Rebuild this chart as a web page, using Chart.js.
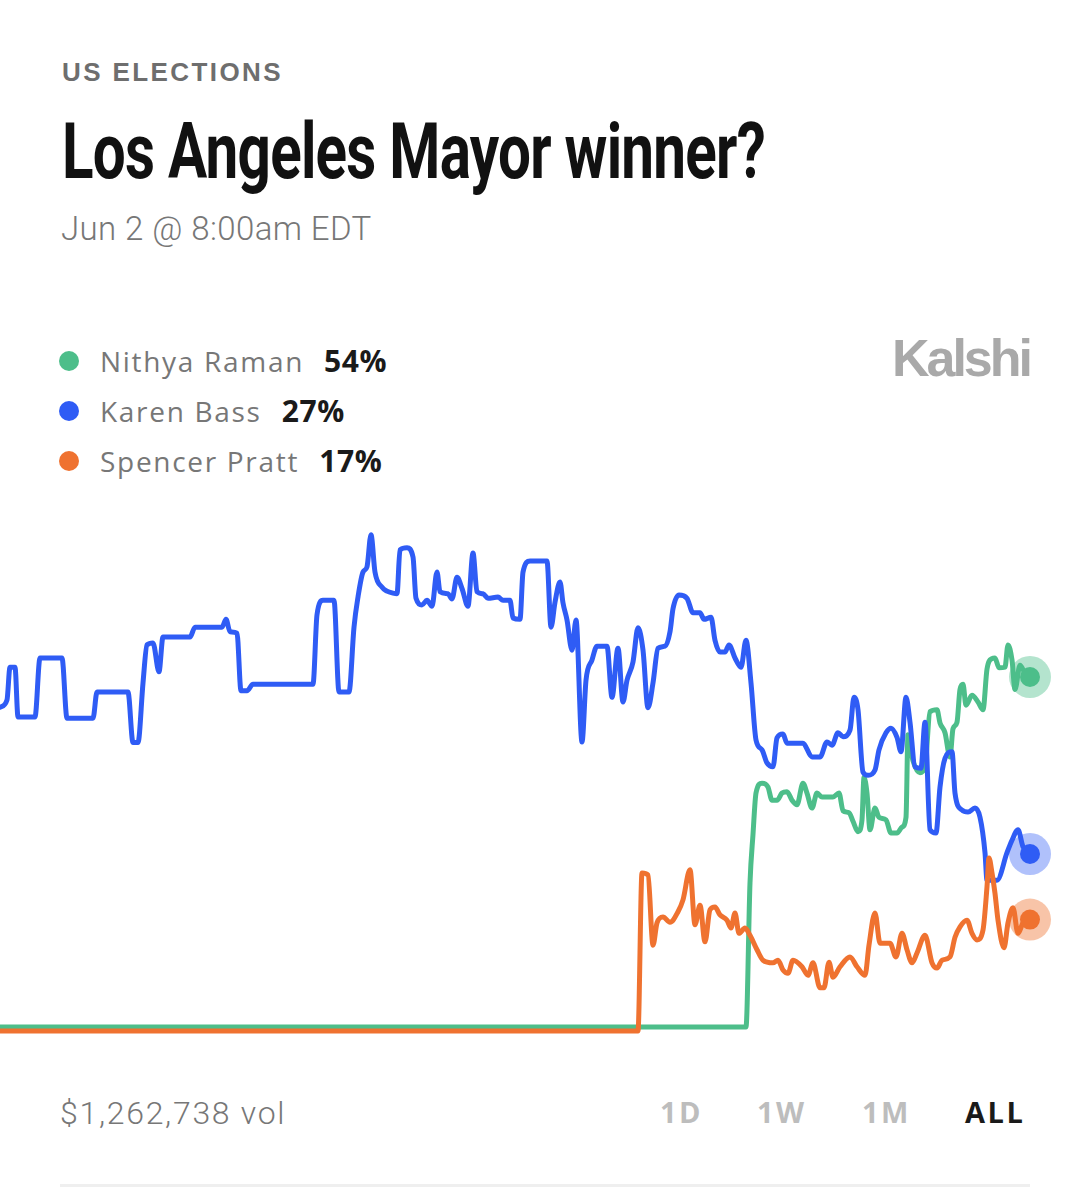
<!DOCTYPE html>
<html>
<head>
<meta charset="utf-8">
<script src="https://cdn.jsdelivr.net/npm/chart.js@4.4.1/dist/chart.umd.min.js"></script>
<style>
  html, body { margin: 0; padding: 0; background: #fff; }
  body { width: 1089px; height: 1200px; position: relative; overflow: hidden; }
  .t { position: absolute; white-space: nowrap; line-height: 1; }
  #kategori { left: 62px; top: 57px; font: bold 26px "Liberation Sans", Arial, sans-serif; letter-spacing: 2.4px; color: #6e6e6e; }
  #baslik { left: 62px; top: 107px; font: 700 77px Roboto, sans-serif; color: #111; letter-spacing: -1px; transform-origin: 0 0; }
  #tarih { left: 61px; top: 209px; font: 300 33px Roboto, sans-serif; letter-spacing: 0.4px; color: #777; }
  #logo { right: 59px; top: 328px; font: bold 52px "Liberation Sans", Arial, sans-serif; letter-spacing: -3px; color: #a9a9a9; }
  .satir { position: absolute; left: 59px; display: flex; align-items: baseline; white-space: nowrap; line-height: 1; }
  .nokta { width: 20px; height: 20px; border-radius: 50%; margin-right: 21px; align-self: center; }
  .isim { font: 400 28px "Open Sans", sans-serif; letter-spacing: 1.7px; color: #777; }
  .oran { font: 700 30px "Open Sans", sans-serif; letter-spacing: 0.6px; color: #1a1a1a; margin-left: 20px; }
  #grafikKutu { position: absolute; left: 0; top: 500px; width: 1089px; height: 560px; }
  #hacim { left: 60px; top: 1094px; font: 300 32px Roboto, sans-serif; letter-spacing: 1.7px; color: #777; }
  .aralik { position: absolute; top: 1097px; font: 700 29px "Open Sans", sans-serif; letter-spacing: 2.5px; color: #bdbdbd; line-height: 1; }
  #alt { position: absolute; left: 60px; top: 1184px; width: 970px; height: 3px; background: #efefef; }
</style>
</head>
<body>
<div class="t" id="kategori">US ELECTIONS</div>
<div class="t" id="baslik">Los Angeles Mayor winner?</div>
<div class="t" id="tarih">Jun 2 @ 8:00am EDT</div>
<div class="t" id="logo">Kalshi</div>
<div id="lejant"></div>
<div id="grafikKutu"><canvas id="grafik"></canvas></div>
<div class="t" id="hacim">$1,262,738 vol</div>
<div class="aralik" style="left:660px">1D</div>
<div class="aralik" style="left:757px">1W</div>
<div class="aralik" style="left:862px">1M</div>
<div class="aralik" style="left:965px;color:#1a1a1a">ALL</div>
<div id="alt"></div>

<script>
// --- VERİ (zaman ekseni 0..1030, değerler %) ---
const adaylar = ['Nithya Raman', 'Karen Bass', 'Spencer Pratt'];
const sonOranlar = [54, 27, 17];
const renkler = ['#4dbe8a', '#2f5cf5', '#ef7230'];
const haleRenkleri = ['rgba(77,190,138,0.42)', 'rgba(47,92,245,0.38)', 'rgba(239,114,48,0.42)'];

const ramanZaman = [0, 746, 750, 753, 756, 762, 768, 772, 777, 782, 787, 792, 797, 803, 807, 812, 817, 822, 833, 839, 843, 849, 853, 858, 862, 864, 867, 870, 875, 879, 886, 891, 897, 902, 906, 908, 913, 920, 925, 930, 937, 940, 945, 950, 953, 957, 960, 963, 966, 972, 978, 983, 987, 992, 995, 999, 1005, 1008, 1012, 1015, 1020, 1025, 1030];
const ramanOran = [0.6, 0.6, 22.6, 30, 36.3, 37.8, 37.2, 35.2, 35.2, 36.3, 36.5, 35.2, 34.5, 37.8, 36.3, 34.0, 36.3, 35.7, 35.7, 36.3, 33.6, 33.3, 32.0, 30.4, 32.2, 38.7, 36.3, 30.7, 34.0, 32.6, 32.2, 30.2, 30.2, 31.1, 32.6, 45.2, 41.2, 39.4, 40.3, 48.7, 49.0, 47.0, 45.5, 41.8, 46.1, 47.1, 52.1, 52.9, 49.7, 51.2, 50.2, 49.0, 55.2, 56.8, 56.9, 55.4, 55.5, 58.9, 56.6, 52.1, 55.8, 54.6, 54];

const bassZaman = [0, 7, 10, 15, 18, 35, 40, 62, 67, 93, 97, 128, 133, 138, 143, 147, 153, 159, 163, 190, 195, 222, 226, 230, 237, 241, 247, 253, 313, 317, 323, 334, 339, 349, 354, 358, 363, 367, 371, 375, 382, 387, 393, 397, 400, 407, 413, 416, 422, 427, 432, 437, 440, 448, 452, 457, 462, 468, 473, 477, 483, 488, 498, 503, 510, 513, 520, 523, 530, 547, 551, 555, 560, 563, 567, 572, 576, 582, 586, 592, 597, 607, 612, 618, 623, 627, 633, 638, 643, 648, 653, 658, 665, 670, 673, 679, 687, 693, 700, 704, 711, 715, 720, 725, 729, 735, 741, 746, 751, 756, 762, 767, 773, 777, 783, 787, 803, 812, 820, 827, 832, 838, 843, 850, 854, 858, 863, 868, 875, 879, 886, 891, 897, 901, 906, 910, 915, 921, 925, 930, 936, 940, 945, 952, 955, 962, 968, 975, 980, 985, 987, 997, 1007, 1012, 1018, 1023, 1030];
const bassOran = [49.4, 50.5, 55.5, 55.5, 47.9, 47.9, 56.9, 56.9, 47.7, 47.7, 51.7, 51.7, 44.0, 44.0, 53.1, 58.9, 59.2, 54.8, 60.1, 60.1, 61.6, 61.6, 62.8, 60.9, 60.7, 51.9, 51.9, 52.9, 52.9, 63.5, 65.7, 65.7, 51.7, 51.7, 61.6, 66.2, 70.0, 70.8, 75.7, 70.0, 67.7, 67.1, 66.8, 66.7, 73.4, 73.7, 72.3, 66.0, 65.0, 65.7, 64.8, 70.0, 67.0, 66.7, 65.9, 69.2, 67.5, 64.8, 72.9, 67.0, 66.7, 66.0, 66.2, 65.7, 65.7, 63.0, 62.8, 70.0, 71.7, 71.7, 61.6, 65.4, 68.5, 65.3, 62.7, 58.1, 62.7, 44.1, 53.5, 56.6, 58.7, 58.7, 50.9, 58.4, 50.2, 53.5, 56.3, 61.5, 58.1, 49.3, 53.1, 58.4, 58.7, 60.9, 64.4, 66.5, 66.0, 63.8, 63.8, 62.8, 63.1, 59.6, 57.8, 57.8, 58.9, 56.9, 55.5, 59.6, 53.1, 44.4, 42.9, 40.9, 40.3, 44.7, 45.3, 43.9, 43.9, 41.8, 41.8, 44.1, 43.6, 45.5, 44.9, 45.9, 50.9, 49.0, 39.5, 39.0, 39.8, 42.9, 45.5, 46.2, 44.8, 42.6, 50.9, 47.1, 40.3, 40.1, 47.1, 30.7, 30.2, 37.2, 41.6, 42.6, 36.3, 33.7, 33.4, 34.0, 32.6, 27.2, 23.0, 23.0, 27.2, 29.1, 30.7, 28.1, 27];

const prattZaman = [0, 638, 642, 648, 653, 657, 663, 670, 678, 683, 690, 695, 700, 705, 710, 715, 720, 727, 731, 735, 739, 745, 750, 757, 763, 773, 778, 783, 788, 793, 802, 808, 813, 820, 824, 829, 833, 840, 850, 857, 865, 869, 875, 880, 890, 896, 902, 907, 912, 917, 925, 932, 937, 942, 950, 955, 960, 967, 972, 977, 983, 987, 989, 992, 995, 998, 1004, 1008, 1013, 1018, 1023, 1030];
const prattOran = [0, 0, 24.1, 23.8, 13.1, 16.5, 17.4, 16.6, 18.2, 20.0, 24.6, 16.2, 19.2, 13.6, 18.5, 18.9, 17.7, 16.9, 15.7, 18.0, 14.9, 15.7, 14.6, 12.4, 10.8, 10.4, 10.8, 9.3, 8.8, 10.8, 9.8, 8.5, 10.4, 6.6, 6.6, 10.5, 8.2, 9.8, 11.3, 9.8, 8.5, 13.1, 18.0, 13.4, 13.4, 11.3, 14.9, 12.4, 10.4, 11.9, 14.6, 10.4, 9.6, 10.8, 11.3, 14.3, 15.9, 16.9, 14.9, 13.9, 15.4, 22.0, 26.4, 24.1, 21.0, 16.9, 12.7, 16.5, 18.8, 14.9, 16.5, 17];

const zamanlar = [ramanZaman, bassZaman, prattZaman];
const oranlar = [ramanOran, bassOran, prattOran];

// --- LEJANT ---
const lejantEl = document.getElementById('lejant');
adaylar.forEach((ad, i) => {
    const satir = document.createElement('div');
    satir.className = 'satir';
    satir.style.top = (340 + i * 50) + 'px';
    satir.innerHTML = `<span class="nokta" style="background:${renkler[i]}"></span><span class="isim">${ad}</span><span class="oran">${sonOranlar[i]}%</span>`;
    lejantEl.appendChild(satir);
});

// başlık dar yazı: genişliği 703px'e sığdır
const baslik = document.getElementById('baslik');
baslik.style.transform = `scaleX(${703 / baslik.getBoundingClientRect().width})`;

// --- GRAFİK ---
const datasets = [];
adaylar.forEach((ad, i) => {
    const noktalar = zamanlar[i].map((x, j) => ({ x: x, y: oranlar[i][j] }));
    const son = noktalar.length - 1;
    datasets.push({
        label: ad,
        data: noktalar,
        borderColor: renkler[i],
        backgroundColor: renkler[i],
        borderWidth: 5,
        borderCapStyle: 'round',
        borderJoinStyle: 'round',
        cubicInterpolationMode: 'monotone',
        pointRadius: ctx => ctx.dataIndex === son ? 10 : 0,
        pointBackgroundColor: renkler[i],
        pointBorderWidth: 0,
        clip: false,
        order: 2 - i
    });
    // uçtaki hale
    datasets.push({
        label: ad + ' hale',
        data: [noktalar[son]],
        showLine: false,
        pointRadius: 21,
        pointBackgroundColor: haleRenkleri[i],
        pointBorderWidth: 0,
        clip: false,
        order: -1
    });
});

new Chart(document.getElementById('grafik'), {
    type: 'line',
    data: { datasets: datasets },
    options: {
        responsive: true,
        maintainAspectRatio: false,
        animation: false,
        events: [],
        layout: { autoPadding: false, padding: { left: 0, right: 59, top: 0, bottom: 0 } },
        scales: {
            x: { type: 'linear', min: 0, max: 1030, display: false },
            y: { min: -4.42, max: 81, display: false }
        },
        plugins: {
            legend: { display: false },
            tooltip: { enabled: false }
        }
    }
});
</script>
</body>
</html>
